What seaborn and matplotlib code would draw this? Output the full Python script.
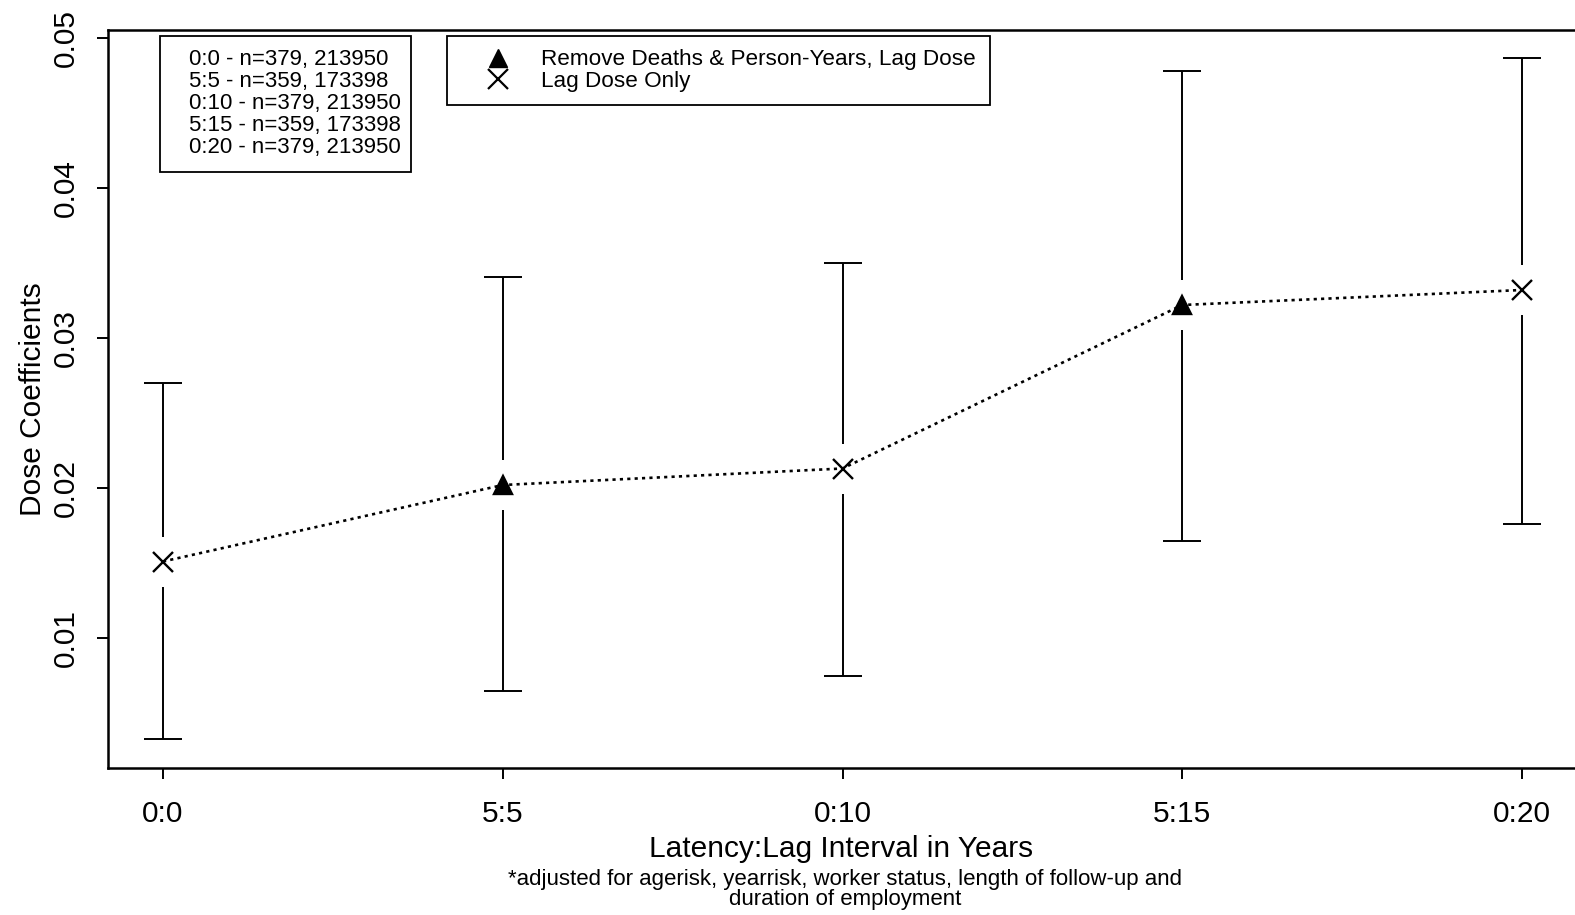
import matplotlib
matplotlib.use("Agg")
import matplotlib.pyplot as plt
from matplotlib.lines import Line2D
from matplotlib.patches import Rectangle
import numpy as np
import pandas as pd
import seaborn as sns

# Latency:lag intervals and fitted dose coefficients with 95% limits
intervals = ["0:0", "5:5", "0:10", "5:15", "0:20"]
coef = [0.0151, 0.0202, 0.0213, 0.0322, 0.0332]
lower = [0.0033, 0.0065, 0.0075, 0.0165, 0.0176]
upper = [0.0270, 0.0341, 0.0350, 0.0478, 0.0487]
model = ["Lag Dose Only", "Remove Deaths & Person-Years, Lag Dose",
         "Lag Dose Only", "Remove Deaths & Person-Years, Lag Dose",
         "Lag Dose Only"]
sample_notes = ["0:0 - n=379, 213950", "5:5 - n=359, 173398",
                "0:10 - n=379, 213950", "5:15 - n=359, 173398",
                "0:20 - n=379, 213950"]

sns.set_theme(style="white")
plt.rcParams["font.family"] = ["Liberation Sans", "DejaVu Sans"]
plt.rcParams["text.color"] = "black"
plt.rcParams["axes.labelcolor"] = "black"
plt.rcParams["xtick.color"] = "black"
plt.rcParams["ytick.color"] = "black"

df = pd.DataFrame({"pos": np.arange(len(intervals)), "coef": coef,
                   "lower": lower, "upper": upper, "model": model})

W, H = 1575, 915
fig = plt.figure(figsize=(W / 100, H / 100), dpi=100)
left_px, right_px, top_px, bottom_px = 108, 1575, 30, 768
ax = fig.add_axes([left_px / W, 1 - bottom_px / H,
                   (right_px - left_px) / W, (bottom_px - top_px) / H])

# confidence intervals
ax.errorbar(df["pos"], df["coef"],
            yerr=[df["coef"] - df["lower"], df["upper"] - df["coef"]],
            fmt="none", ecolor="black", elinewidth=1.4, capsize=14,
            capthick=1.4, zorder=2)
# open a gap in each bar around the point estimate
ax.plot(df["pos"], df["coef"], ls="none", marker="|", ms=36,
        mec="white", mew=6, zorder=3)

# dotted trend through the estimates
sns.lineplot(data=df, x="pos", y="coef", ax=ax, color="black",
             linestyle=(0, (1.2, 1.6)), linewidth=1.9, zorder=4,
             estimator=None, sort=True)

marker_map = {"Lag Dose Only": "x",
              "Remove Deaths & Person-Years, Lag Dose": "^"}
for name, mk in marker_map.items():
    sub = df[df["model"] == name]
    ax.plot(sub["pos"], sub["coef"], ls="none", marker=mk,
            ms=15 if mk == "x" else 13, mew=1.7, color="black",
            mfc="black", zorder=5)

ax.set_xlim(-55 / 339.75, 4 + 53 / 339.75)
ax.set_ylim(0.01 - 130 / 15000, 0.05 + 8 / 15000)
ax.set_xticks(df["pos"])
ax.set_xticklabels(intervals)
ax.set_yticks([0.01, 0.02, 0.03, 0.04, 0.05])
ax.set_yticklabels(["0.01", "0.02", "0.03", "0.04", "0.05"],
                   rotation=90, va="center")
ax.tick_params(axis="both", direction="out", length=8, width=1.4,
               labelsize=21.5, left=True, bottom=True)
ax.tick_params(axis="x", pad=15)
ax.tick_params(axis="y", pad=12)
for side in ["left", "bottom", "top"]:
    ax.spines[side].set_visible(True)
    ax.spines[side].set_color("black")
    ax.spines[side].set_linewidth(1.8)
ax.spines["right"].set_visible(False)
ax.set_xlabel("Latency:Lag Interval in Years", fontsize=21.5, labelpad=5)
ax.set_ylabel("Dose Coefficients", fontsize=21.5, labelpad=4)
ax.grid(False)

# sample size box
fig.patches.append(Rectangle((160 / W, 1 - 172 / H), 251 / W, 136 / H,
                             transform=fig.transFigure, fill=True,
                             fc="white", ec="black", lw=1.3, zorder=6))
fig.text(189 / W, 1 - 49 / H, "\n".join(sample_notes), fontsize=16,
         va="top", ha="left", linespacing=1.06, zorder=7)

# model legend
handles = [Line2D([], [], ls="none", marker="^", color="black", ms=13),
           Line2D([], [], ls="none", marker="x", color="black", ms=14,
                  mew=1.6)]
leg = fig.legend(handles=handles,
                 labels=["Remove Deaths & Person-Years, Lag Dose",
                         "Lag Dose Only"],
                 loc="upper left", bbox_to_anchor=(447 / W, 1 - 36 / H),
                 frameon=True, fancybox=False, fontsize=16.2,
                 handlelength=3.3, handletextpad=0.3, labelspacing=0.0,
                 borderpad=0.6, borderaxespad=0, framealpha=1)
leg.get_frame().set_edgecolor("black")
leg.get_frame().set_linewidth(1.3)

fig.text(845 / W, 1 - 869 / H,
         "*adjusted for agerisk, yearrisk, worker status, length of follow-up and\nduration of employment",
         fontsize=16, ha="center", va="top", linespacing=0.92)

fig.savefig("out.png", dpi=100)
